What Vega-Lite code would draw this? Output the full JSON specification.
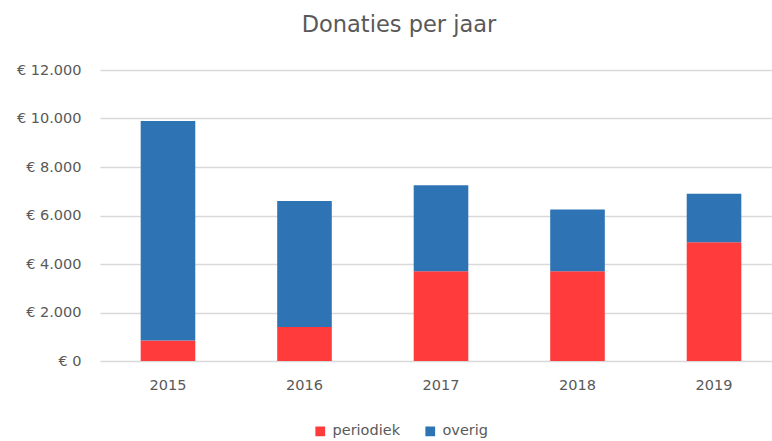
{
  "$schema": "https://vega.github.io/schema/vega-lite/v6.json",
  "width": 682,
  "height": 291,
  "autosize": {"type": "none"},
  "padding": {"left": 100, "top": 70, "right": 0, "bottom": 80},
  "background": "white",
  "title": {
    "text": "Donaties per jaar",
    "anchor": "middle",
    "dx": -42,
    "offset": 26,
    "fontSize": 22.5,
    "font": "DejaVu Sans",
    "fontWeight": "normal",
    "color": "#595959"
  },
  "data": {
    "values": [
      {"jaar": "2015", "type": "periodiek", "bedrag": 850},
      {"jaar": "2015", "type": "overig", "bedrag": 9050},
      {"jaar": "2016", "type": "periodiek", "bedrag": 1400},
      {"jaar": "2016", "type": "overig", "bedrag": 5200},
      {"jaar": "2017", "type": "periodiek", "bedrag": 3700},
      {"jaar": "2017", "type": "overig", "bedrag": 3550},
      {"jaar": "2018", "type": "periodiek", "bedrag": 3700},
      {"jaar": "2018", "type": "overig", "bedrag": 2550},
      {"jaar": "2019", "type": "periodiek", "bedrag": 4900},
      {"jaar": "2019", "type": "overig", "bedrag": 2000}
    ]
  },
  "mark": {"type": "bar"},
  "encoding": {
    "x": {
      "field": "jaar",
      "type": "nominal",
      "scale": {"paddingInner": 0.6, "paddingOuter": 0.298},
      "axis": {
        "title": null,
        "labelAngle": 0,
        "domain": false,
        "ticks": false,
        "labelFont": "DejaVu Sans",
        "labelFontSize": 14.5,
        "labelColor": "#595959",
        "labelPadding": 17
      }
    },
    "y": {
      "field": "bedrag",
      "type": "quantitative",
      "aggregate": "sum",
      "scale": {"domain": [0, 12000], "nice": false},
      "axis": {
        "title": null,
        "values": [0, 2000, 4000, 6000, 8000, 10000, 12000],
        "labelExpr": "'€ ' + replace(format(datum.value, ',d'), ',', '.')",
        "domain": false,
        "ticks": false,
        "grid": true,
        "gridColor": "#D9D9D9",
        "gridWidth": 1.3,
        "labelFont": "DejaVu Sans",
        "labelFontSize": 14.5,
        "labelColor": "#595959",
        "labelPadding": 19
      }
    },
    "color": {
      "field": "type",
      "type": "nominal",
      "scale": {"domain": ["periodiek", "overig"], "range": ["#FF3B3B", "#2E74B5"]},
      "legend": {
        "title": null,
        "orient": "none",
        "direction": "horizontal",
        "legendX": 213,
        "legendY": 354,
        "symbolType": "square",
        "symbolSize": 95,
        "symbolStrokeWidth": 0,
        "labelFont": "DejaVu Sans",
        "labelFontSize": 14.5,
        "labelColor": "#595959",
        "columnPadding": 22,
        "labelOffset": 5
      }
    },
    "order": {"field": "type", "sort": "descending"}
  },
  "config": {"view": {"stroke": null}}
}
